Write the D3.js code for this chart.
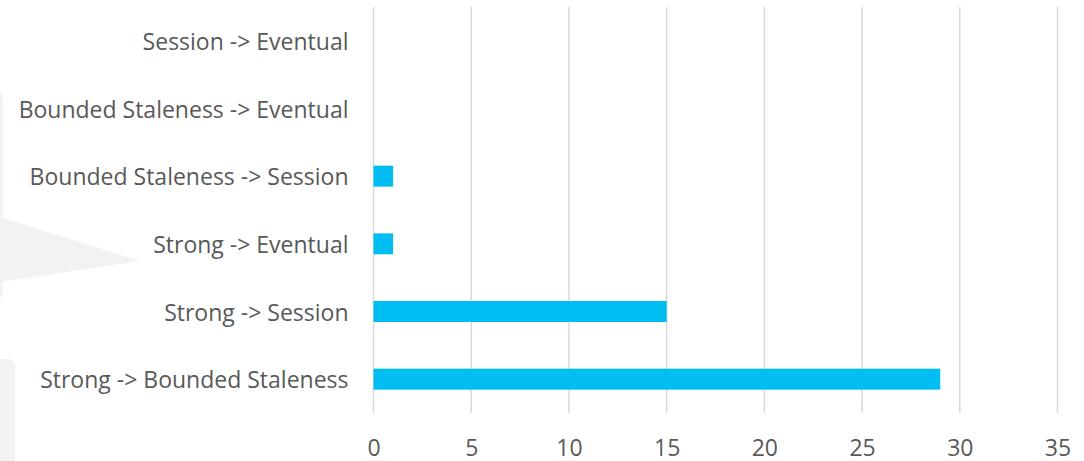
<!DOCTYPE html>
<html><head><meta charset="utf-8">
<script src="https://cdn.jsdelivr.net/npm/d3@7"></script>
<style>body{margin:0;background:#fff}svg{display:block}</style>
</head><body>
<svg id="c" width="1084" height="461"></svg>
<script>
const categories = ["Session -> Eventual","Bounded Staleness -> Eventual","Bounded Staleness -> Session","Strong -> Eventual","Strong -> Session","Strong -> Bounded Staleness"];
const values = [0,0,1,1,15,29];
const xTicks = [0,5,10,15,20,25,30,35];

const svg = d3.select("#c");
const font = "'Open Sans', 'Noto Sans', sans-serif";

// faint watermark shapes in background
const bg = svg.append("g").attr("fill","#f2f2f2");
bg.append("path").attr("d","M0,93 Q3,93 3,100 L3,290 Q3,298 0,298 Z");
bg.append("path").attr("d","M0,217 L140,261 L0,282 Z");
bg.append("path").attr("d","M0,359 L7,359 Q15,359 15,367 L15,461 L0,461 Z");

const x = d3.scaleLinear().domain([0,35]).range([373.5,1057.5]);
const y = d3.scaleBand().domain(categories).range([7,413]).paddingInner(0.69).paddingOuter(0.345);

// gridlines
svg.append("g").selectAll("line").data(xTicks).join("line")
  .attr("x1",d=>x(d)).attr("x2",d=>x(d)).attr("y1",7).attr("y2",413)
  .attr("stroke","#d9d9d9").attr("stroke-width",1.5);

// bars
svg.append("g").selectAll("rect").data(values).join("rect")
  .attr("x",x(0)).attr("y",(d,i)=>y(categories[i]))
  .attr("width",d=>x(d)-x(0)).attr("height",y.bandwidth())
  .attr("fill","#00bef2");

// y axis labels
const ya = svg.append("g").attr("transform","translate(373.5,0)")
  .call(d3.axisLeft(y).tickSize(0).tickPadding(25));
ya.select(".domain").remove();
ya.selectAll("text").attr("font-family",font).attr("font-size",23).attr("fill","#595959").attr("dy",9);

// x axis labels
const xa = svg.append("g").attr("transform","translate(0,413)")
  .call(d3.axisBottom(x).tickValues(xTicks).tickSize(0));
xa.select(".domain").remove();
xa.selectAll("text").attr("font-family",font).attr("font-size",23).attr("fill","#595959").attr("y",0).attr("dy",42.5);
</script>
</body></html>
